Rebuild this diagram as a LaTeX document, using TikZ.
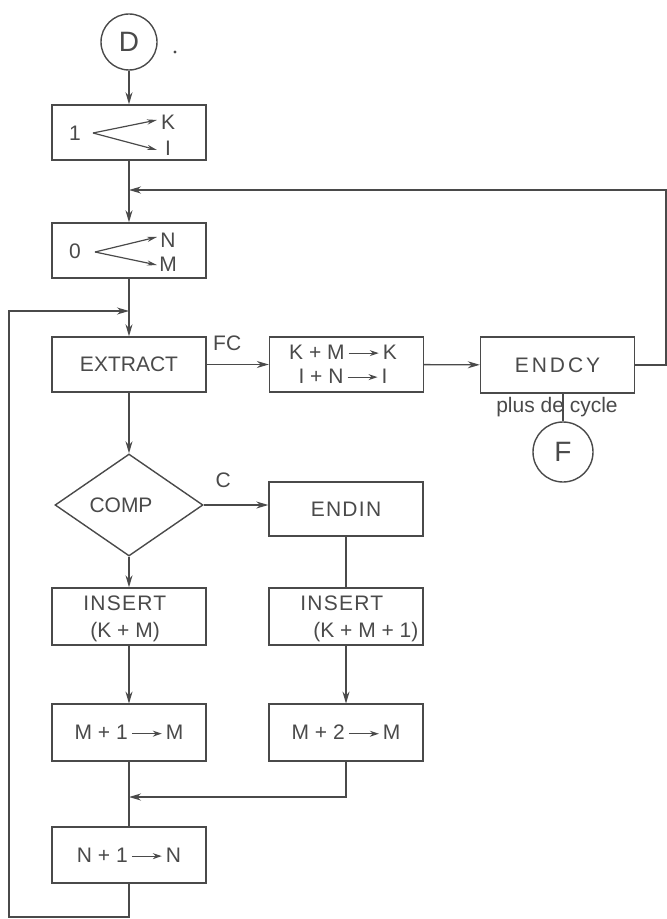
\documentclass[tikz,border=0pt]{standalone}
\usepackage{fontspec}
\setmainfont{Liberation Sans}
\newfontfamily\spaced[LetterSpace=14]{Liberation Sans}
\newfontfamily\spacedb[LetterSpace=6]{Liberation Sans}
\usetikzlibrary{arrows.meta,shapes.geometric}
\definecolor{ink}{HTML}{4A4A4A}
\newcommand{\myarr}[1][15pt]{\,\tikz[baseline=-0.55ex]\draw[ink,line width=0.6pt,-{Stealth[length=4.5pt,width=3pt]}] (0pt,0pt)--(#1,0pt);\,}
\begin{document}
\begin{tikzpicture}[x=0.5pt,y=-0.5pt, line width=0.7pt, color=ink, text=ink,
  font=\fontsize{10.5}{12}\selectfont,
  box/.style={draw=ink, rectangle, minimum width=77pt, minimum height=27.5pt, inner sep=0pt},
  arr/.style={-{Stealth[length=6pt,width=3.5pt]}},
  arrs/.style={line width=0.6pt,-{Stealth[length=5pt,width=2.6pt]}},
  term/.style={draw=ink, circle, minimum size=28pt, inner sep=0pt, font=\fontsize{14}{16}\selectfont}]
\useasboundingbox (0,0) rectangle (667,919);
\fill[white] (0,0) rectangle (667,919);

% start
\node[term] (D) at (129,42) {D};
\fill (175,52) circle (0.8pt);

% 1 -> K, I
\node[box] (b1) at (129,132.5) {};
\node (one) at (75,133) {1};
\coordinate (o1) at (93,133);
\coordinate (k1) at (157,120);
\coordinate (i1) at (157,150);
\draw[arrs] (o1) -- (k1);
\draw[arrs] (o1) -- (i1);
\node (kk) at (168,122) {K};
\node (ii) at (168,148) {I};

% 0 -> N, M
\node[box] (b2) at (129,250.5) {};
\node (zero) at (75,251) {0};
\coordinate (o2) at (95,252);
\coordinate (n2) at (157,237);
\coordinate (m2c) at (157,265);
\draw[arrs] (o2) -- (n2);
\draw[arrs] (o2) -- (m2c);
\node (nn) at (168,240) {N};
\node (mm) at (168,264) {M};

% extract row
\node[box] (ext) at (129,364.5) {EXTRACT};
\node[box] (km) at (346.5,364.5) {};
\node (kmt) at (343,352) {K + M\myarr K};
\node (int) at (343,376) {I + N\myarr I};
\node[box, minimum height=28pt] (ecy) at (557.5,365) {\spaced ENDCY};
\node[term, minimum size=30pt] (F) at (563,452) {F};

% comp row
\node[diamond, draw=ink, minimum width=74pt, minimum height=51pt, inner sep=0pt] (cmp) at (129,505) {};
\node (cmpt) at (121,505) {COMP};
\node[box, minimum height=27pt] (endin) at (346,509) {\spacedb ENDIN};

% insert row
\node[box, minimum height=28.5pt] (ins1) at (129,616.5) {};
\node[anchor=west] (ins1a) at (76,603) {\spacedb INSERT};
\node[anchor=west] (ins1b) at (83,632) {(K + M)};
\node[box, minimum height=28.5pt] (ins2) at (346,616.5) {};
\node[anchor=west] (ins2a) at (293,603) {\spacedb INSERT};
\node[anchor=west] (ins2b) at (306,632) {(K + M + 1)};

% increments
\node[box, minimum height=28.5pt] (m1) at (129,732.5) {M + 1\myarr M};
\node[box, minimum height=28.5pt] (m2) at (346,732.5) {M + 2\myarr M};
\node[box, minimum height=28pt] (n1) at (129,855) {N + 1\myarr N};

% junctions
\coordinate (j1) at (129,190);
\coordinate (j2) at (129,311);
\coordinate (j3) at (129,797);
\coordinate (rt) at (666,190);
\coordinate (lb) at (9,917);

% connectors
\draw[arr] (D) -- (b1);
\draw[arr] (b1) -- (b2);
\draw[arr] (b2) -- (ext);
\draw[arr] (ecy.east) -| (rt) -- (j1);
\draw[arr] (n1.south) |- (lb) |- (j2);
\draw[arr] (ext) -- (cmp);
\draw[arr] (ext.east) -- node[pos=0.33, above=3pt] {FC} (km.west);
\draw[arr] (km) -- (ecy);
\draw (F.north |- ecy.south) -- (F.north);
\node (pdc) at (557,407) {plus de cycle};
\draw[arr] (cmp.east) -- node[pos=0.3, above=5pt] {C} (endin.west |- cmp.east);
\draw[arr] (cmp) -- (ins1);
\draw (endin) -- (ins2);
\draw[arr] (ins1) -- (m1);
\draw[arr] (ins2) -- (m2);
\draw (m1) -- (n1);
\draw[arr] (m2.south) |- (j3);
\end{tikzpicture}
\end{document}
